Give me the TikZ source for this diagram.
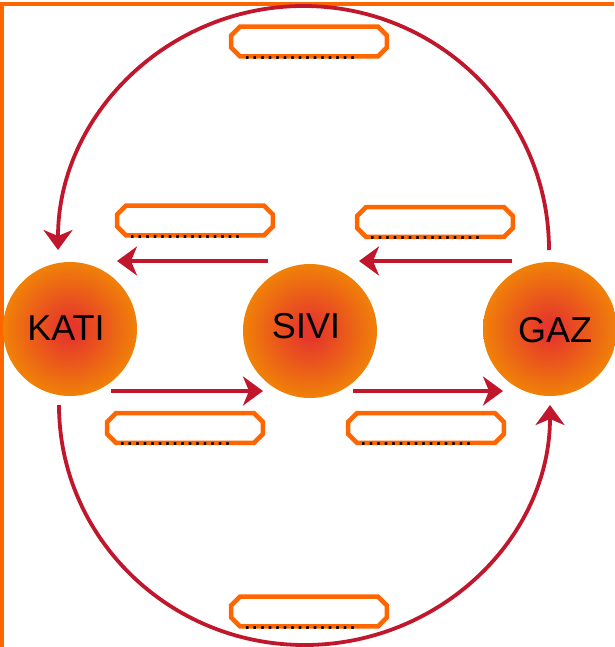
\documentclass[tikz,border=0pt]{standalone}
\usepackage{fontspec}
\setmainfont{Liberation Sans}
\usetikzlibrary{arrows.meta,calc}

\definecolor{frameor}{RGB}{255,102,0}
\definecolor{arrowred}{RGB}{193,23,44}
\definecolor{ballred}{RGB}{229,55,43}
\definecolor{ballor}{RGB}{243,146,0}

\pgfdeclareradialshading{ballshade}{\pgfpoint{0bp}{0bp}}{%
  color(0bp)=(ballred); color(3bp)=(ballred);
  color(30bp)=(ballor); color(50bp)=(ballor)}

\tikzset{
  ball/.style={circle, minimum size=134pt, inner sep=0pt, shading=ballshade},
  phase/.style={inner sep=0pt, font=\fontsize{36}{40}\selectfont},
  octbox/.style={rectangle, minimum width=155.5pt, minimum height=29.5pt, inner sep=0pt},
  boxline/.style={draw=frameor, line width=4.5pt, fill=white, line join=miter},
  blank/.style={anchor=base, inner sep=0pt, font=\fontsize{27}{30}\selectfont},
  arr/.style={draw=arrowred, line width=3.8pt,
    -{Stealth[length=20pt,width=29pt,inset=6pt]}},
}

% octagonal label frame around a named rectangle node
\newcommand\chamferbox[1]{%
  \draw[boxline] ($(#1.north west)+(9,0)$) -- ($(#1.north east)+(-9,0)$)
    -- ($(#1.north east)+(0,9)$) -- ($(#1.south east)+(0,-9)$)
    -- ($(#1.south east)+(-9,0)$) -- ($(#1.south west)+(9,0)$)
    -- ($(#1.south west)+(0,-9)$) -- ($(#1.north west)+(0,9)$) -- cycle;}

\begin{document}
\begin{tikzpicture}[x=1pt,y=-1pt]
\useasboundingbox (0,0) rectangle (614,647);

% page frame
\draw[frameor, line width=3.2pt] (614,4) -- (2,4) -- (2,647);

% the three states of matter
\node[ball] (kati) at (70,329) {};
\node[ball] (sivi) at (310,331) {};
\node[ball] (gaz)  at (550,329) {};
\node[phase] (katit) at (66,328) {KATI};
\node[phase] (sivit) at (306,326) {SIVI};
\node[phase] (gazt)  at (555,330) {GAZ};

% transitions between neighbours
\draw[arr] ($(sivi)+(-42,-70)$) -- ($(kati)+(47,-68)$);
\draw[arr] ($(gaz)+(-38,-68)$) -- ($(sivi)+(49,-70)$);
\draw[arr] ($(kati)+(41,62)$) -- ($(sivi)+(-47,60)$);
\draw[arr] ($(sivi)+(43,60)$) -- ($(gaz)+(-47,62)$);

% direct transitions gas <-> solid
\draw[arr] ($(gaz)+(-1,-79)$) arc[start angle=0, end angle=-180, x radius=245.5, y radius=244];
\draw[arr] ($(kati)+(-11,76)$) arc[start angle=180, end angle=0, x radius=245.5, y radius=240];

% answer boxes
\node[octbox] (btop) at (309,41.5) {};
\node[octbox] (bml)  at (195,220.5) {};
\node[octbox] (bmr)  at (435,222) {};
\node[octbox] (bbl)  at (185,428) {};
\node[octbox] (bbr)  at (426,428) {};
\node[octbox] (bbot) at (309,611.5) {};
\chamferbox{btop}
\chamferbox{bml}
\chamferbox{bmr}
\chamferbox{bbl}
\chamferbox{bbr}
\chamferbox{bbot}

\node[blank] (dtop) at ($(btop.south)+(-9,3)$) {...............};
\node[blank] (dml)  at ($(bml.south)+(-10,3)$) {...............};
\node[blank] (dmr)  at ($(bmr.south)+(-10,3)$) {...............};
\node[blank] (dbl)  at ($(bbl.south)+(-10,3)$) {...............};
\node[blank] (dbr)  at ($(bbr.south)+(-10,3)$) {...............};
\node[blank] (dbot) at ($(bbot.south)+(-9,3)$) {...............};
\end{tikzpicture}
\end{document}
